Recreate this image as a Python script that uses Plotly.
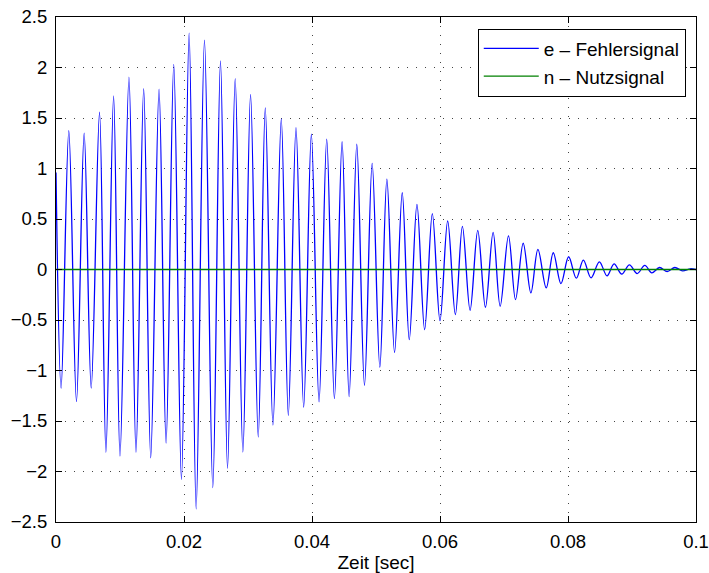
import plotly.graph_objects as go

# e - Fehlersignal: extrema (alternating troughs/peaks)
e_time = [0.0, 0.0008, 0.0020, 0.0032, 0.0044, 0.0055, 0.0068, 0.0078, 0.0090, 0.0100,
          0.0114, 0.0125, 0.0137, 0.0148, 0.0161, 0.0172, 0.0184, 0.0196, 0.0208, 0.0219,
          0.0232, 0.0245, 0.0257, 0.0268, 0.0280, 0.0292, 0.0304, 0.0316, 0.0327, 0.0339,
          0.0352, 0.0363, 0.0375, 0.0387, 0.0399, 0.0411, 0.0423, 0.0435, 0.0447, 0.0458,
          0.0470, 0.0482, 0.0494, 0.0506, 0.0517, 0.0529, 0.0541, 0.0552, 0.0564, 0.0576,
          0.0588, 0.0600, 0.0612, 0.0624, 0.0635, 0.0647, 0.0659, 0.0671, 0.0683, 0.0694,
          0.0707, 0.0718, 0.0730, 0.0742, 0.0753, 0.0766, 0.0777, 0.0789, 0.0801, 0.0813,
          0.0824, 0.0836, 0.0849, 0.0861, 0.0872, 0.0884, 0.0896, 0.0908, 0.0920, 0.0931,
          0.0943, 0.0955, 0.0967, 0.0979, 0.0991, 0.1000]
e_value = [0.96, -1.175, 1.375, -1.308, 1.35, -1.175, 1.557, -1.81, 1.72, -1.848,
           1.905, -1.81, 1.79, -1.864, 1.786, -1.72, 2.03, -2.08, 2.34, -2.37,
           2.27, -2.16, 2.065, -1.97, 1.89, -1.808, 1.733, -1.659, 1.60, -1.54,
           1.49, -1.444, 1.405, -1.364, 1.339, -1.311, 1.29, -1.278, 1.265, -1.258,
           1.24, -1.146, 1.05, -0.967, 0.895, -0.821, 0.76, -0.695, 0.645, -0.596,
           0.553, -0.507, 0.48, -0.447, 0.427, -0.404, 0.387, -0.374, 0.367, -0.364,
           0.333, -0.298, 0.26, -0.232, 0.20, -0.182, 0.166, -0.139, 0.126, -0.086,
           0.093, -0.083, 0.076, -0.063, 0.056, -0.046, 0.046, -0.04, 0.04, -0.033,
           0.02, -0.02, 0.02, -0.013, 0.007, 0.0]

# n - Nutzsignal
n_time = [0.0, 0.1]
n_value = [0.0, 0.0]

x_ticks = [0, 0.02, 0.04, 0.06, 0.08, 0.1]
x_tick_labels = ["0", "0.02", "0.04", "0.06", "0.08", "0.1"]
y_ticks = [-2.5, -2, -1.5, -1, -0.5, 0, 0.5, 1, 1.5, 2, 2.5]
y_tick_labels = ["\u22122.5", "\u22122", "\u22121.5", "\u22121", "\u22120.5", "0",
                 "0.5", "1", "1.5", "2", "2.5"]

FONT = "Liberation Sans, Arial, Helvetica, sans-serif"

fig = go.Figure()
fig.add_trace(go.Scatter(
    x=e_time, y=e_value, mode="lines", name="e \u2013 Fehlersignal",
    line=dict(color="#0000ff", width=1.3, shape="spline", smoothing=1.0),
))
fig.add_trace(go.Scatter(
    x=n_time, y=n_value, mode="lines", name="n \u2013 Nutzsignal",
    line=dict(color="#008000", width=1.4),
))

axis_common = dict(
    showline=True, linecolor="black", linewidth=1, mirror="ticks",
    ticks="inside", ticklen=6, tickcolor="black", tickwidth=1,
    showgrid=True, gridcolor="#444444", gridwidth=1, griddash="1px,8px",
    zeroline=False, automargin=False,
    tickfont=dict(family=FONT, size=18.5, color="black"),
)

fig.update_xaxes(
    range=[0, 0.1], tickvals=x_ticks, ticktext=x_tick_labels,
    title=dict(text="Zeit [sec]", font=dict(family=FONT, size=19, color="black"), standoff=10),
    ticklabelstandoff=3,
    **axis_common,
)
fig.update_yaxes(
    range=[-2.5, 2.5], tickvals=y_ticks, ticktext=y_tick_labels,
    ticklabelstandoff=4,
    **axis_common,
)

fig.update_layout(
    width=709, height=573,
    margin=dict(l=56, r=13, t=17, b=51, autoexpand=False),
    paper_bgcolor="white", plot_bgcolor="white",
    font=dict(family=FONT, size=18, color="black"),
    legend=dict(
        x=0.984, y=0.977, xanchor="right", yanchor="top",
        bgcolor="white", bordercolor="black", borderwidth=1,
        font=dict(family=FONT, size=19, color="black"),
        tracegroupgap=0, itemwidth=55,
    ),
    showlegend=True,
)

fig.write_html("out.html")
